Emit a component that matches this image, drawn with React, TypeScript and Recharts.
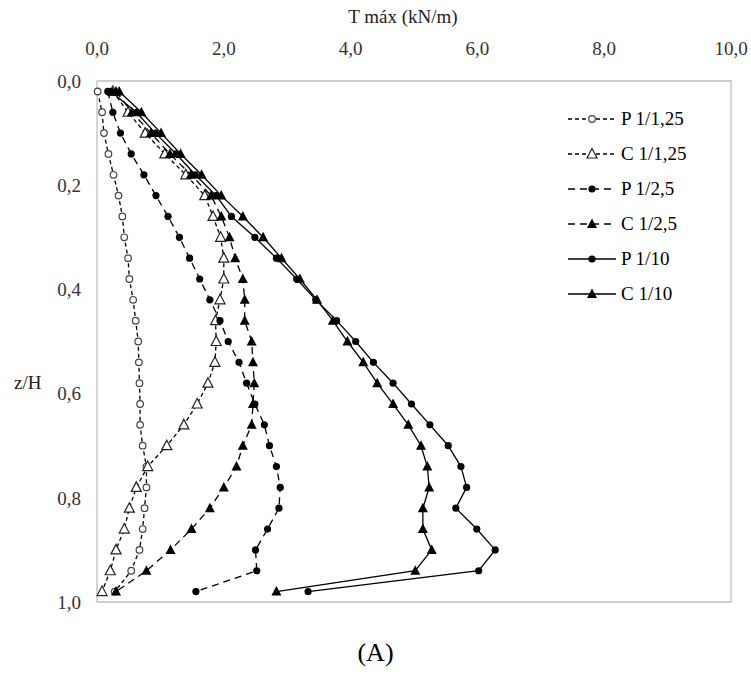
import { ScatterChart, Scatter, XAxis, YAxis, ReferenceArea } from 'recharts';

// z/H levels (25 layers)
const zH = [0.02, 0.06, 0.1, 0.14, 0.18, 0.22, 0.26, 0.3, 0.34, 0.38, 0.42, 0.46, 0.5, 0.54, 0.58, 0.62, 0.66, 0.7, 0.74, 0.78, 0.82, 0.86, 0.9, 0.94, 0.98];

// T máx (kN/m) per series
const p125 = [0.01, 0.08, 0.11, 0.18, 0.26, 0.34, 0.4, 0.43, 0.49, 0.51, 0.57, 0.61, 0.65, 0.66, 0.67, 0.68, 0.68, 0.72, 0.78, 0.78, 0.75, 0.72, 0.67, 0.54, 0.28];
const c125 = [0.25, 0.49, 0.76, 1.07, 1.4, 1.7, 1.83, 1.95, 2.0, 2.0, 1.94, 1.87, 1.88, 1.86, 1.75, 1.58, 1.37, 1.1, 0.8, 0.62, 0.51, 0.43, 0.3, 0.21, 0.08];
const p25 = [0.17, 0.25, 0.37, 0.54, 0.74, 0.93, 1.12, 1.3, 1.46, 1.62, 1.78, 1.94, 2.07, 2.24, 2.36, 2.49, 2.64, 2.72, 2.83, 2.89, 2.87, 2.69, 2.5, 2.52, 1.56];
const c25 = [0.3, 0.55, 0.85, 1.15, 1.48, 1.8, 1.96, 2.09, 2.18, 2.3, 2.33, 2.33, 2.44, 2.46, 2.48, 2.46, 2.44, 2.3, 2.2, 2.0, 1.78, 1.49, 1.16, 0.78, 0.3];
const p10 = [0.22, 0.62, 0.92, 1.25, 1.55, 1.88, 2.12, 2.49, 2.83, 3.15, 3.45, 3.78, 4.08, 4.36, 4.67, 4.96, 5.25, 5.54, 5.74, 5.83, 5.66, 5.99, 6.28, 6.02, 3.33];
const c10 = [0.35, 0.7, 1.01, 1.32, 1.65, 1.96, 2.3, 2.62, 2.91, 3.2, 3.47, 3.72, 3.95, 4.2, 4.42, 4.67, 4.91, 5.11, 5.21, 5.24, 5.14, 5.14, 5.28, 5.02, 2.83];

const xTicks = [0, 2, 4, 6, 8, 10];
const yTicks = [0, 0.2, 0.4, 0.6, 0.8, 1.0];

const FONT = '"Liberation Serif", "Times New Roman", serif';
const fmt = (v: number) => v.toFixed(1).replace('.', ',');

type Kind = 'openCircle' | 'openTri' | 'dot' | 'tri';

function Marker({ cx, cy, kind }: { cx: number; cy: number; kind: Kind }) {
  if (cx == null || cy == null) return null;
  if (kind === 'openCircle')
    return <circle cx={cx} cy={cy} r={3.3} fill="#fff" stroke="#444" strokeWidth={1.2} />;
  if (kind === 'dot') return <circle cx={cx} cy={cy} r={3.6} fill="#000" />;
  const pts = `${cx},${cy - 5.5} ${cx - 5},${cy + 4} ${cx + 5},${cy + 4}`;
  if (kind === 'openTri') return <polygon points={pts} fill="#fff" stroke="#222" strokeWidth={1.2} />;
  return <polygon points={pts} fill="#000" />;
}

const series = [
  { name: 'P 1/1,25', vals: p125, kind: 'openCircle' as Kind, dash: '4 3' },
  { name: 'C 1/1,25', vals: c125, kind: 'openTri' as Kind, dash: '4 3' },
  { name: 'P 1/2,5', vals: p25, kind: 'dot' as Kind, dash: '7 5' },
  { name: 'C 1/2,5', vals: c25, kind: 'tri' as Kind, dash: '7 5' },
  { name: 'P 1/10', vals: p10, kind: 'dot' as Kind, dash: undefined },
  { name: 'C 1/10', vals: c10, kind: 'tri' as Kind, dash: undefined },
];

function LegendBox() {
  return (
    <div style={{ position: 'absolute', left: 568, top: 101, fontFamily: FONT, fontSize: 19, color: '#000' }}>
      {series.map((s) => (
        <div key={s.name} style={{ display: 'flex', alignItems: 'center', height: 35 }}>
          <svg width={48} height={14}>
            <line x1={0} y1={7} x2={48} y2={7} stroke="#000" strokeWidth={1.3} strokeDasharray={s.dash} />
            <Marker cx={24} cy={7} kind={s.kind} />
          </svg>
          <span style={{ marginLeft: 5 }}>{s.name}</span>
        </div>
      ))}
    </div>
  );
}

export default function App() {
  return (
    <div style={{ position: 'absolute', left: 0, top: 0, width: 751, height: 675, background: '#fff' }}>
      <ScatterChart width={751} height={675} margin={{ top: 51, right: 20, bottom: 73, left: 47 }}>
        <XAxis
          type="number"
          dataKey="t"
          orientation="top"
          domain={[0, 10]}
          ticks={xTicks}
          tickFormatter={fmt}
          axisLine={false}
          tickLine={false}
          height={30}
          tickMargin={20}
          tick={{ fill: '#333', fontSize: 19, fontFamily: FONT }}
        />
        <YAxis
          type="number"
          dataKey="z"
          reversed
          domain={[0, 1]}
          ticks={yTicks}
          tickFormatter={fmt}
          axisLine={false}
          tickLine={false}
          width={50}
          tickMargin={10}
          tick={{ fill: '#333', fontSize: 19, fontFamily: FONT }}
        />
        <ReferenceArea x1={0} x2={10} y1={0} y2={1} fill="none" stroke="#bfbfbf" strokeWidth={1.3} ifOverflow="visible" />
        {series.map((s) => (
          <Scatter
            key={s.name}
            name={s.name}
            data={s.vals.map((t, i) => ({ t, z: zH[i] }))}
            line={{ stroke: '#000', strokeWidth: 1.3, strokeDasharray: s.dash }}
            lineType="joint"
            shape={(p: any) => <Marker cx={p.cx} cy={p.cy} kind={s.kind} />}
            isAnimationActive={false}
          />
        ))}
      </ScatterChart>
      <LegendBox />
      <div style={{ position: 'absolute', left: 0, width: 806, top: 6, textAlign: 'center', fontFamily: FONT, fontSize: 19, color: '#222' }}>
        T máx (kN/m)
      </div>
      <div style={{ position: 'absolute', left: 14, top: 372, fontFamily: FONT, fontSize: 19, color: '#222' }}>z/H</div>
      <div style={{ position: 'absolute', left: 0, width: 751, top: 638, textAlign: 'center', fontFamily: FONT, fontSize: 26, color: '#000' }}>
        (A)
      </div>
    </div>
  );
}
